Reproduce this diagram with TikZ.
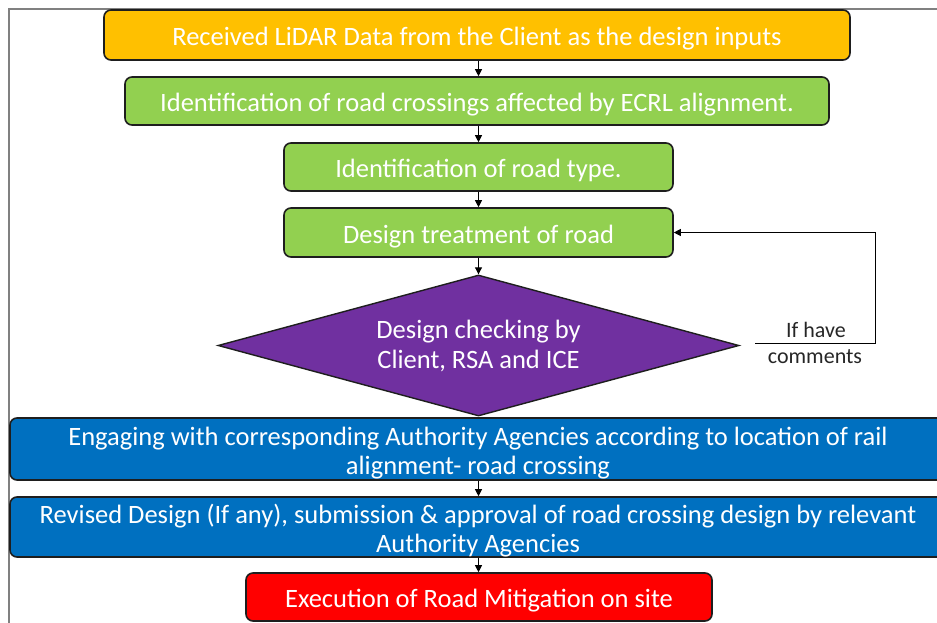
\documentclass[tikz,border=0pt]{standalone}
\usepackage{fontspec}
\setmainfont{Carlito}
\usetikzlibrary{shapes.geometric,arrows.meta}
\definecolor{cyellow}{HTML}{FFC000}
\definecolor{cgreen}{HTML}{92D050}
\definecolor{cpurple}{HTML}{7030A0}
\definecolor{cblue}{HTML}{0070C0}
\definecolor{cred}{HTML}{FF0000}
\definecolor{cedge}{HTML}{1E1E1E}
\newcommand{\topstrut}{\rule{0pt}{26pt}}
\tikzset{
  box/.style={draw=cedge, line width=1.6pt, rounded corners=7pt, text=white,
    inner sep=0pt, align=center, font=\fontsize{26.5}{29}\selectfont},
  oneline/.style={box, text height=25pt, text depth=4pt},
  dia/.style={draw=cedge, line width=1.4pt, shape=diamond, aspect=3.7, fill=cpurple,
    text=white, inner sep=0pt, align=center, minimum width=521pt, minimum height=141pt,
    font=\fontsize{26.5}{30}\selectfont},
  flow/.style={draw=black, line width=1pt, -{Triangle[length=7pt,width=7pt]}},
  lbl/.style={text=black!85, font=\fontsize{22}{27}\selectfont, inner sep=0pt}
}
\begin{document}
\begin{tikzpicture}[x=1pt,y=-1pt]
\useasboundingbox (0,0) rectangle (937,622);
\begin{scope}
\clip (0,0) rectangle (937,622);
\draw[gray, line width=1.5pt] (9,630) -- (9,9) -- (940,9);
\node[oneline, fill=cyellow, minimum width=746pt, minimum height=50pt] (n1) at (477,35) {Received LiDAR Data from the Client as the design inputs};
\node[oneline, fill=cgreen, minimum width=704pt, minimum height=48pt] (n2) at (477,101) {Identification of road crossings affected by ECRL alignment.};
\node[oneline, fill=cgreen, minimum width=389pt, minimum height=48pt] (n3) at (478.5,167) {Identification of road type.};
\node[oneline, fill=cgreen, minimum width=389pt, minimum height=49pt] (n4) at (478.5,232.5) {Design treatment of road};
\node[dia] (n5) at (478.5,345.5) {Design checking by\\Client, RSA and ICE};
\node[box, fill=cblue, minimum width=936pt, minimum height=62pt] (n6) at (478,449) {\topstrut Engaging with corresponding Authority Agencies according to location of rail\\alignment- road crossing};
\node[box, fill=cblue, minimum width=936pt, minimum height=60pt] (n7) at (478,527) {\topstrut Revised Design (If any), submission \& approval of road crossing design by relevant\\Authority Agencies};
\node[oneline, fill=cred, minimum width=466pt, minimum height=48pt] (n8) at (479,597) {Execution of Road Mitigation on site};
\end{scope}
\draw[flow] (n1.south -| n5.north) -- (n2.north -| n5.north);
\draw[flow] (n2.south -| n5.north) -- (n3.north -| n5.north);
\draw[flow] (n3.south -| n5.north) -- (n4.north -| n5.north);
\draw[flow] (n4.south -| n5.north) -- (n5.north);
\draw[flow] (n6.south -| n5.north) -- (n7.north -| n5.north);
\draw[flow] (n7.south -| n5.north) -- (n8.north -| n5.north);
\coordinate (fb) at (755,343);
\coordinate (fc) at (875,343);
\draw[flow] (fb) -- (fc) -- (fc |- n4.east) -- (n4.east);
\node[lbl] (l1) at (816,330) {If have};
\node[lbl] (l2) at (815,357) {comments};
\end{tikzpicture}
\end{document}
